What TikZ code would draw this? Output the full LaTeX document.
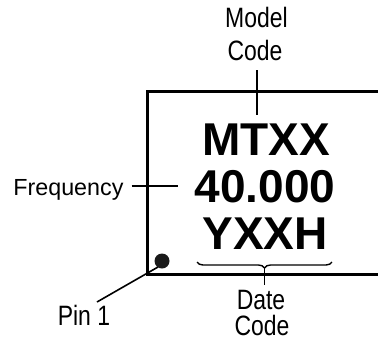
\documentclass[tikz,border=0pt]{standalone}
\usepackage{fontspec}
\usepackage{graphicx}
\setmainfont{Liberation Sans}
\usetikzlibrary{decorations.pathreplacing}
\newcommand{\lab}[1]{\scalebox{0.82}[1]{\fontsize{28}{30}\selectfont #1}}
\newcommand{\marktxt}[1]{{\fontsize{46}{50}\selectfont\bfseries #1}}
\tikzset{
  txt/.style={inner sep=0pt, anchor=base},
  leader/.style={line width=1.6pt},
  boxline/.style={line width=3pt},
}
\begin{document}
\begin{tikzpicture}[x=1pt,y=-1pt]
\useasboundingbox (0,0) rectangle (378,341);
\clip (0,0) rectangle (378,341);
% package outline
\draw[boxline] (390,91) -- (147,91) -- (147,274) -- (390,274);
% marking text
\node[txt] (mtxx) at (266,155) {\marktxt{MTXX}};
\node[txt] (freqval) at (265,202.5) {\marktxt{40.000}};
\node[txt] (yxxh) at (265,249) {\marktxt{YXXH}};
% labels
\node[txt] (model) at (256.5,27) {\lab{Model}};
\node[txt] (mcode) at (255,60) {\lab{Code}};
\node[txt] (freq) at (68.4,195) {\fontsize{23.3}{26}\selectfont Frequency};
\node[txt] (date) at (261,309.5) {\lab{Date}};
\node[txt] (dcode) at (262,335.5) {\lab{Code}};
\node[txt] (pin) at (84,325) {\lab{Pin 1}};
% pin 1 dot
\node[circle, fill=black!90, inner sep=0pt, minimum size=15pt] (dot) at (162,261) {};
% leader coordinates
\coordinate (m1) at (257,70);
\coordinate (m2) at (257,115);
\coordinate (f1) at (131.7,186);
\coordinate (f2) at (178,186);
\coordinate (p1) at (97,302);
\coordinate (p2) at (158,267);
\coordinate (b1) at (332,262);
\coordinate (b2) at (197,262);
\coordinate (bt) at (264.5,268);
\coordinate (bl) at (264.5,285);
% leaders
\draw[leader] (m1) -- (m2);
\draw[leader] (f1) -- (f2);
\draw[leader] (p1) -- (p2);
\draw[line width=1.4pt, decorate, decoration={brace, amplitude=6pt}] (b1) -- (b2);
\draw[leader] (bt) -- (bl);
\end{tikzpicture}
\end{document}
